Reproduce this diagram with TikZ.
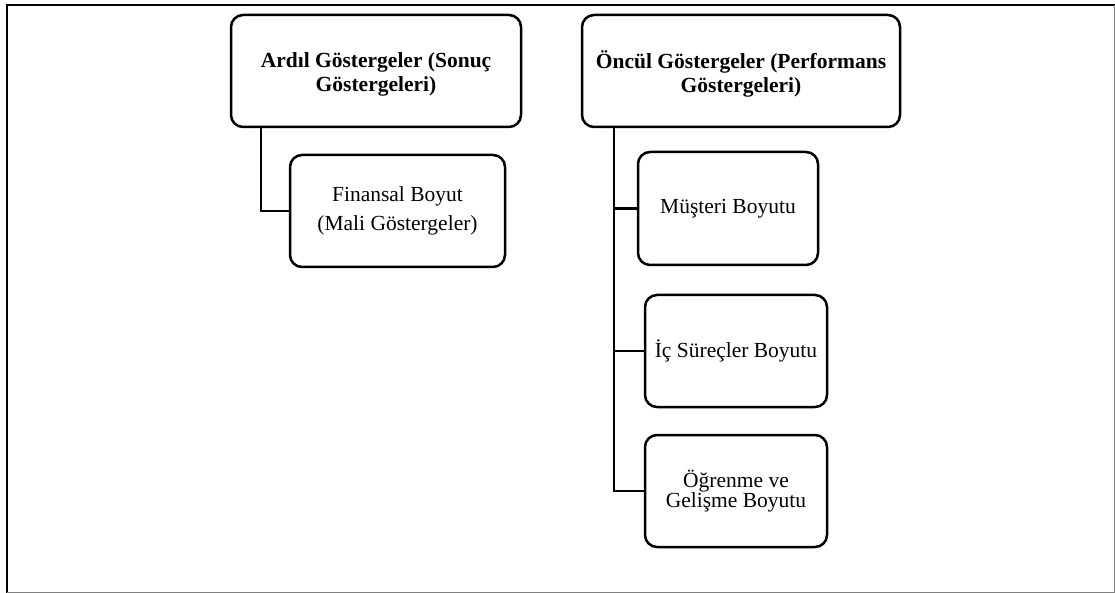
\documentclass[tikz,border=0pt]{standalone}
\usepackage{fontspec}
\setmainfont{Liberation Serif}
\newcommand{\twolines}[2]{\begin{tabular}{@{}c@{}}#1\\#2\end{tabular}}
\begin{document}
\begin{tikzpicture}[x=1pt,y=-1pt,
  box/.style={draw, line width=2.5pt, rounded corners=12pt, align=center, inner sep=0pt},
  head/.style={box, font=\fontsize{21.5}{24}\selectfont\bfseries, text height=18.6pt, text depth=0pt},
  sub/.style={box, font=\fontsize{21.5}{19}\selectfont},
  link/.style={line width=2.5pt}]
\useasboundingbox (0,0) rectangle (1115,593);
\draw[line width=2.5pt] (1115,5) -- (7,5) -- (7,593);
\draw[line width=1pt, gray] (7,592) -- (1114.5,592) -- (1114.5,5);

\node[head, minimum width=290pt, minimum height=112pt] (A) at (376,71) {\twolines{Ardıl Göstergeler (Sonuç}{Göstergeleri)}};
\node[sub, minimum width=215pt, minimum height=112pt] (B) at (397.5,211) {Finansal Boyut\\[8pt](Mali Göstergeler)};
\node[head, minimum width=318pt, minimum height=112pt] (C) at (741,71) {\twolines{Öncül Göstergeler (Performans}{Göstergeleri)}};
\node[sub, minimum width=180pt, minimum height=113pt] (D) at (728,208.5) {Müşteri Boyutu};
\node[sub, minimum width=182pt, minimum height=112pt] (E) at (736,351) {İç Süreçler Boyutu};
\node[sub, minimum width=182pt, minimum height=112pt] (F) at (736,491) {Öğrenme ve\\Gelişme Boyutu};

\coordinate (ta) at ([xshift=31pt]A.south west);
\coordinate (tc) at ([xshift=33pt]C.south west);
\draw[link] (ta) |- (B.west);
\draw[link] (tc) |- (D.west);
\draw[link] (tc) |- (E.west);
\draw[link] (tc) |- (F.west);
\end{tikzpicture}
\end{document}
